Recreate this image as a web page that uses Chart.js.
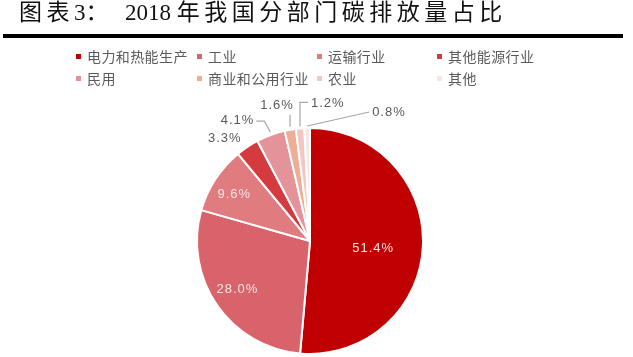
<!DOCTYPE html>
<html>
<head>
<meta charset="utf-8">
<script src="https://cdn.jsdelivr.net/npm/chart.js@4/dist/chart.umd.min.js"></script>
<style>
  html,body{margin:0;padding:0;background:#fff;}
  #wrap{position:relative;width:633px;height:357px;overflow:hidden;background:#fff;}
  #c{position:absolute;left:0;top:0;}
  .t{position:absolute;top:-3px;font-size:23px;color:#111;white-space:nowrap;
     font-family:"Liberation Serif","Noto Sans CJK SC",serif;line-height:32px;}
  .t .cj{letter-spacing:4.5px;}
  #rule{position:absolute;left:3px;top:34px;width:620px;height:4px;background:#000;}
  .lg{position:absolute;font-family:"Noto Sans CJK SC",sans-serif;font-size:14px;color:#5a5a5a;
      white-space:nowrap;line-height:16px;letter-spacing:0.4px;}
  .lg i{position:absolute;left:-11px;top:6px;width:5px;height:5px;}
</style>
</head>
<body>
<div id="wrap">
  <canvas id="c" width="633" height="357"></canvas>
  <div class="t" style="left:19px"><span class="cj">图表</span>3：</div>
  <div class="t" style="left:125px">2018 <span class="cj">年我国分部门碳排放量占比</span></div>
  <div id="rule"></div>
  <div id="legend"></div>
</div>
<script>
// ---- data ----
const categories = ["电力和热能生产","工业","运输行业","其他能源行业","民用","商业和公用行业","农业","其他"];
const shares = [51.4, 28.0, 9.6, 3.3, 4.1, 1.6, 1.2, 0.8];
const shareLabels = ["51.4%","28.0%","9.6%","3.3%","4.1%","1.6%","1.2%","0.8%"];
const colors = ["#c00000","#d9636a","#e07b80","#d43a3e","#e5939a","#eeae96","#f2c6c2","#f9e6e2"];

// ---- legend (HTML, 4 columns x 2 rows) ----
const legCols = [87, 208, 328, 448];
const legRows = [48, 70];
const legend = document.getElementById('legend');
categories.forEach((name, i) => {
  const d = document.createElement('div');
  d.className = 'lg';
  d.style.left = legCols[i % 4] + 'px';
  d.style.top = legRows[Math.floor(i / 4)] + 'px';
  d.innerHTML = '<i style="background:' + colors[i] + '"></i>' + name;
  legend.appendChild(d);
});

// ---- label placement styles ----
// inside labels: radial fraction of radius and a small vertical nudge
const insideFrac = {0: [0.56, 5], 1: [0.78, -2], 2: [0.80, 3]};
// outside labels: offsets from the slice edge point at mid-angle
const outside = {
  3: {text: [-22, -8], align: 'center', leader: null},
  4: {text: [-16, -14], align: 'right', leader: [[0, -2], [-6, -13], [-14, -13]]},
  5: {text: [-13, -23], align: 'center', leader: [[0, -2], [0, -14]]},
  6: {text: [11, -24], align: 'left', leader: [[0, -1], [0, -25], [8, -25]]},
  7: {text: [65, -15], align: 'left', leader: [[0, -1], [62, -15]]}
};

const labelPlugin = {
  id: 'sliceLabels',
  afterDatasetsDraw(chart) {
    const ctx = chart.ctx;
    const meta = chart.getDatasetMeta(0);
    ctx.save();
    ctx.font = '13px "Liberation Sans", Arial, sans-serif';
    ctx.letterSpacing = '1px';
    ctx.textBaseline = 'middle';
    meta.data.forEach((arc, i) => {
      const p = arc.getProps(['x','y','startAngle','endAngle','outerRadius'], true);
      const mid = (p.startAngle + p.endAngle) / 2;
      const cx = Math.cos(mid), cy = Math.sin(mid);
      if (insideFrac[i] !== undefined) {
        const r = p.outerRadius * insideFrac[i][0];
        ctx.fillStyle = '#fbe3e3';
        ctx.textAlign = 'center';
        ctx.fillText(shareLabels[i], p.x + cx * r, p.y + cy * r + insideFrac[i][1]);
      } else if (outside[i]) {
        const o = outside[i];
        const ex = p.x + cx * (p.outerRadius + 1);
        const ey = p.y + cy * (p.outerRadius + 1);
        if (o.leader) {
          ctx.strokeStyle = '#a6a6a6';
          ctx.lineWidth = 1.2;
          ctx.beginPath();
          o.leader.forEach((pt, k) => {
            const X = ex + pt[0], Y = ey + pt[1];
            if (k === 0) ctx.moveTo(X, Y); else ctx.lineTo(X, Y);
          });
          ctx.stroke();
        }
        ctx.fillStyle = '#595959';
        ctx.textAlign = o.align;
        ctx.fillText(shareLabels[i], ex + o.text[0], ey + o.text[1]);
      }
    });
    ctx.restore();
  }
};

new Chart(document.getElementById('c'), {
  type: 'pie',
  data: {
    labels: categories,
    datasets: [{
      data: shares,
      backgroundColor: colors,
      borderColor: '#ffffff',
      borderWidth: 2
    }]
  },
  options: {
    responsive: false,
    animation: false,
    layout: {padding: {left: 196, right: 209, top: 127, bottom: 2}},
    plugins: {legend: {display: false}, tooltip: {enabled: false}, title: {display: false}}
  },
  plugins: [labelPlugin]
});
</script>
</body>
</html>
